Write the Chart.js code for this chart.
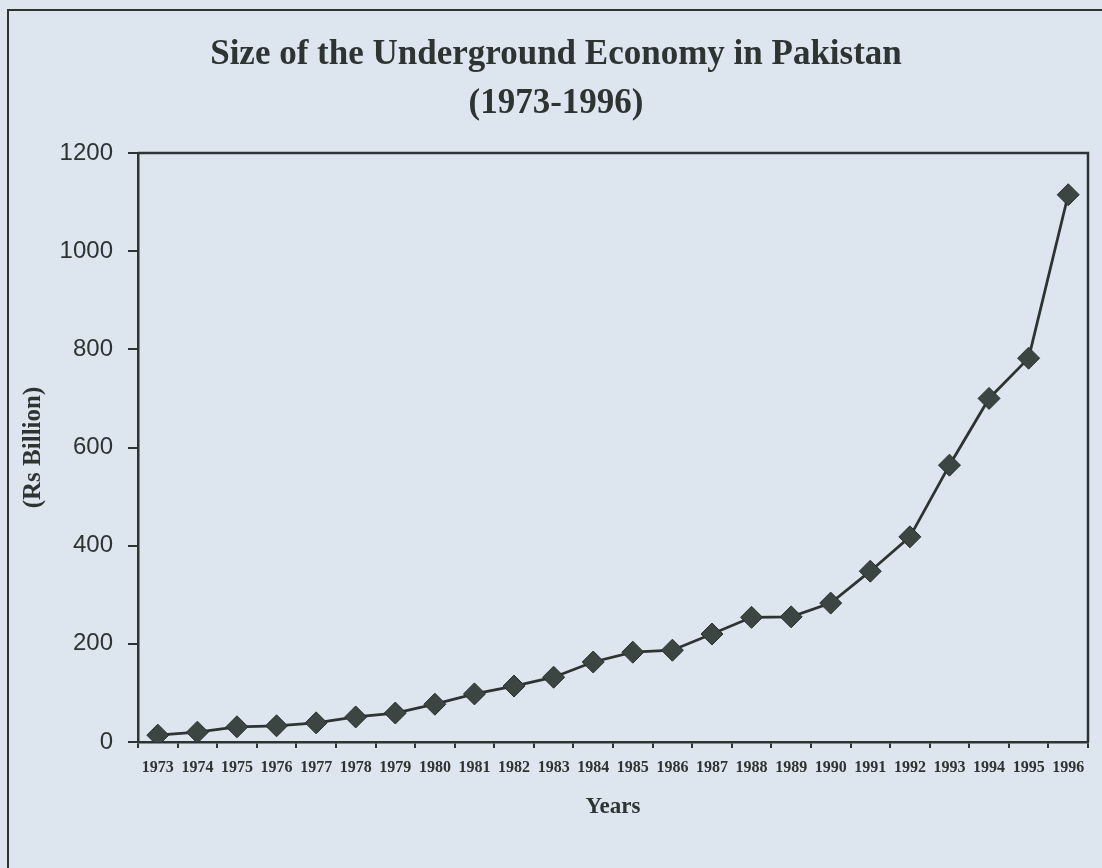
<!DOCTYPE html>
<html>
<head>
<meta charset="utf-8">
<title>Size of the Underground Economy in Pakistan</title>
<script src="https://cdn.jsdelivr.net/npm/chart.js@4"></script>
<style>
    html, body {
        margin: 0;
        padding: 0;
        background: #dde6ef;
        overflow: hidden;
    }
    #wrap {
        position: relative;
        width: 1102px;
        height: 868px;
    }
    #frame {
        position: absolute;
        left: 7px;
        top: 9px;
        width: 1200px;
        height: 1000px;
        border-left: 2.5px solid #2e3431;
        border-top: 2.5px solid #2e3431;
    }
    #chart {
        position: absolute;
        left: 0;
        top: 0;
    }
</style>
</head>
<body>
<div id="wrap">
    <div id="frame"></div>
    <canvas id="chart" width="1102" height="868"></canvas>
</div>
<script>
// years on the x axis
let years = ["1973", "1974", "1975", "1976", "1977", "1978", "1979", "1980", "1981", "1982", "1983", "1984",
    "1985", "1986", "1987", "1988", "1989", "1990", "1991", "1992", "1993", "1994", "1995", "1996"];

// estimated size of the underground economy, Rs billion
let undergroundSize = [14, 20, 31, 33, 39, 51, 59, 77, 98, 114, 132, 163,
    183, 187, 220, 254, 255, 283, 348, 418, 564, 700, 782, 1115];

let titleLines = ["Size of the Underground Economy in Pakistan", "(1973-1996)"];
let yAxisTitle = "(Rs Billion)";
let xAxisTitle = "Years";

const INK = "#2e3431";

/**
 * draws the top and right edge of the plot box
 */
let plotBox = {
    id: "plotBox",
    afterDraw: function (chart) {
        let area = chart.chartArea;
        let ctx = chart.ctx;
        ctx.save();
        ctx.strokeStyle = INK;
        ctx.lineWidth = 2.5;
        ctx.beginPath();
        ctx.moveTo(area.left, area.top);
        ctx.lineTo(area.right, area.top);
        ctx.lineTo(area.right, area.bottom);
        ctx.stroke();
        ctx.restore();
    }
};

let chart = new Chart(document.getElementById("chart"), {
    type: "line",
    data: {
        labels: years,
        datasets: [{
            label: "Underground economy",
            data: undergroundSize,
            borderColor: INK,
            borderWidth: 2.8,
            backgroundColor: "#3b4541",
            pointStyle: "rectRot",
            pointRadius: 11,
            pointBorderColor: "#2a302d",
            pointBorderWidth: 1,
            tension: 0
        }]
    },
    options: {
        responsive: false,
        animation: false,
        layout: {
            padding: {left: 24, right: 14, top: 0, bottom: 0}
        },
        plugins: {
            legend: {display: false},
            tooltip: {enabled: false},
            title: {
                display: true,
                text: titleLines,
                color: INK,
                font: {family: "Liberation Serif", size: 35, weight: "bold", lineHeight: 1.4},
                padding: {top: 30.5, bottom: 24.5}
            }
        },
        scales: {
            x: {
                offset: true,
                grid: {
                    display: true,
                    offset: true,
                    drawOnChartArea: false,
                    drawTicks: true,
                    tickLength: 6,
                    color: INK,
                    lineWidth: 2
                },
                border: {display: true, color: INK, width: 2.5},
                ticks: {
                    color: INK,
                    padding: 10,
                    maxRotation: 0,
                    autoSkip: false,
                    font: {family: "Liberation Serif", size: 16, weight: "bold"}
                },
                title: {
                    display: true,
                    text: xAxisTitle,
                    color: INK,
                    font: {family: "Liberation Serif", size: 23, weight: "bold", lineHeight: 1.2},
                    padding: {top: 0, bottom: 47}
                },
                afterFit: function (scale) {
                    scale.height = 126;
                }
            },
            y: {
                min: 0,
                max: 1200,
                grid: {
                    display: true,
                    drawOnChartArea: false,
                    drawTicks: true,
                    tickLength: 10,
                    color: INK,
                    lineWidth: 2
                },
                border: {display: true, color: INK, width: 2.5},
                ticks: {
                    stepSize: 200,
                    color: INK,
                    padding: 15,
                    font: {family: "Liberation Sans", size: 24},
                    // plain numbers, no thousands separator
                    callback: function (value) {
                        return String(value);
                    }
                },
                title: {
                    display: true,
                    text: yAxisTitle,
                    color: INK,
                    font: {family: "Liberation Serif", size: 25, weight: "bold", lineHeight: 0.8},
                    padding: {top: 0, bottom: 0}
                },
                afterFit: function (scale) {
                    scale.width = 114;
                }
            }
        }
    },
    plugins: [plotBox]
});
</script>
</body>
</html>
